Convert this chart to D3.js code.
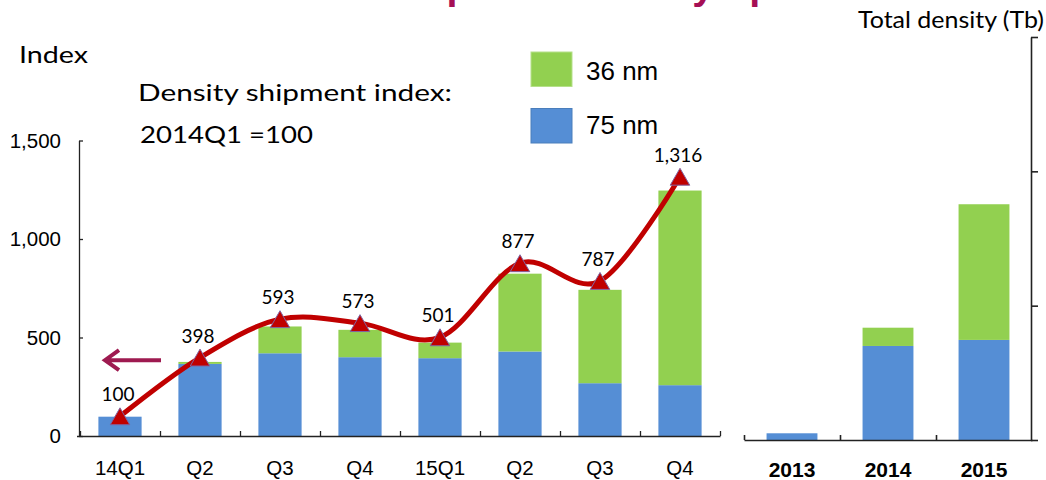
<!DOCTYPE html>
<html>
<head>
<meta charset="utf-8">
<script src="https://cdn.jsdelivr.net/npm/d3@7"></script>
<style>
  body { margin: 0; background: #fff; }
  .tick-label { font-family: "Liberation Sans", Arial, sans-serif; fill: #000; }
  .calibri { font-family: Lato, "Open Sans", sans-serif; fill: #000; }
</style>
</head>
<body>
<div class="chart"></div>
<script>
// chart data
// ==========================================================================
var quarters = ["14Q1", "Q2", "Q3", "Q4", "15Q1", "Q2", "Q3", "Q4"];
var quarter75nm = [98, 366, 420, 400, 395, 429, 268, 258];
var quarter36nm = [0, 10, 136, 139, 79, 395, 474, 988];
var densityIndex = [100, 398, 593, 573, 501, 877, 787, 1316];
var indexTicks = [0, 500, 1000, 1500];

var years = ["2013", "2014", "2015"];
var year75nm = [5, 70, 74.5];
var year36nm = [0, 13.6, 101];
var densityTicks = [0, 100, 200, 300];

var seriesNames = ["75 nm", "36 nm"];
var colors = { "75 nm": "#558ED5", "36 nm": "#92D050" };

// set up chart configurations
// ==========================================================================
var svgWidth = 1046;
var svgHeight = 480;

var svg = d3.select(".chart")
  .append("svg")
  .attr("width", svgWidth)
  .attr("height", svgHeight);

// left chart scales
var xQuarter = d3.scaleBand()
  .domain(d3.range(quarters.length))
  .range([80, 720])
  .paddingInner(0.46)
  .paddingOuter(0.23);

var xQuarterEdges = d3.scaleLinear()
  .domain([0, quarters.length])
  .range([80, 720]);

var yIndex = d3.scaleLinear()
  .domain([0, 1500])
  .range([436, 140.5]);

// right chart scales
var xYear = d3.scaleBand()
  .domain(d3.range(years.length))
  .range([744, 1032])
  .paddingInner(0.47)
  .paddingOuter(0.235);

var xYearEdges = d3.scaleLinear()
  .domain([0, years.length])
  .range([744, 1032]);

var yDensity = d3.scaleLinear()
  .domain([0, 300])
  .range([440, 37]);

// stacked tables built from the arrays
var quarterRows = quarters.map(function(q, i) {
  return { i: i, "75 nm": quarter75nm[i], "36 nm": quarter36nm[i] };
});
var yearRows = years.map(function(y, i) {
  return { i: i, "75 nm": year75nm[i], "36 nm": year36nm[i] };
});
var stack = d3.stack().keys(seriesNames);

// title (only the descenders show at the top edge, as in the slide)
svg.append("text")
  .attr("x", 287)
  .attr("y", -1)
  .attr("font-family", "Liberation Sans, Arial, sans-serif")
  .attr("font-weight", "bold")
  .attr("font-size", 39.5)
  .attr("fill", "#A50F55")
  .text("Total shipment density up");

// left chart bars
// ==========================================================================
var leftBars = svg.append("g");
stack(quarterRows).forEach(function(layer) {
  leftBars.selectAll(null)
    .data(layer)
    .enter()
    .append("rect")
    .attr("x", d => xQuarter(d.data.i))
    .attr("width", xQuarter.bandwidth())
    .attr("y", d => yIndex(d[1]))
    .attr("height", d => yIndex(d[0]) - yIndex(d[1]))
    .attr("fill", colors[layer.key]);
});

// axes
var leftAxis = d3.axisLeft(yIndex)
  .tickValues(indexTicks)
  .tickFormat(d3.format(","))
  .tickSizeInner(-4)
  .tickSizeOuter(0)
  .tickPadding(18);

var yAxisG = svg.append("g")
  .attr("transform", "translate(79, 0)")
  .call(leftAxis);
yAxisG.selectAll("text").attr("class", "tick-label").attr("font-size", 20.5);

var xTickAxis = svg.append("g")
  .attr("transform", "translate(0, 436)")
  .call(d3.axisTop(xQuarterEdges).ticks(quarters.length).tickFormat("").tickSize(5).tickSizeOuter(0));
xTickAxis.select(".domain").attr("d", "M77,0.5H720.5");

var xLabelAxis = svg.append("g")
  .attr("transform", "translate(0, 436)")
  .call(d3.axisBottom(xQuarter).tickSize(0).tickPadding(24).tickFormat(i => quarters[i]));
xLabelAxis.select(".domain").remove();
xLabelAxis.selectAll("text").attr("class", "tick-label").attr("font-size", 20.5);

svg.selectAll(".domain, .tick line").attr("stroke", "#222").attr("stroke-width", 1.3);

// smoothed index line with triangle markers
// ==========================================================================
var indexLine = d3.line()
  .x((d, i) => xQuarter(i) + xQuarter.bandwidth() / 2)
  .y(d => yIndex(d))
  .curve(d3.curveCardinal.tension(0));

svg.append("path")
  .datum(densityIndex)
  .attr("d", indexLine)
  .attr("fill", "none")
  .attr("stroke", "#C00000")
  .attr("stroke-width", 5);

var triangle = d3.symbol().type(d3.symbolTriangle).size(165);
svg.selectAll(null)
  .data(densityIndex)
  .enter()
  .append("path")
  .attr("d", triangle)
  .attr("transform", (d, i) => `translate(${xQuarter(i) + xQuarter.bandwidth() / 2}, ${yIndex(d) + 2.8})`)
  .attr("fill", "#C00000")
  .attr("stroke", "#8064A2")
  .attr("stroke-width", 1);

svg.selectAll(null)
  .data(densityIndex)
  .enter()
  .append("text")
  .attr("class", "calibri")
  .attr("x", (d, i) => xQuarter(i) + xQuarter.bandwidth() / 2 - 2)
  .attr("y", d => yIndex(d) - 15)
  .attr("text-anchor", "middle")
  .attr("font-size", 19)
  .text(d => d3.format(",")(d));

// arrow pointing at the left axis
var arrowY = yIndex(385);
svg.append("path")
  .attr("d", `M161,${arrowY}H106M119,${arrowY - 10}L105,${arrowY}L119,${arrowY + 10}`)
  .attr("fill", "none")
  .attr("stroke", "#9E1A50")
  .attr("stroke-width", 4);

// text annotations and legend (slide text is stretched a little wider)
// ==========================================================================
svg.append("text").attr("class", "calibri").attr("x", 19).attr("y", 63)
  .attr("font-size", 23).attr("textLength", 69).attr("lengthAdjust", "spacingAndGlyphs")
  .text("Index");
svg.append("text").attr("class", "calibri").attr("x", 138).attr("y", 101)
  .attr("font-size", 23).attr("textLength", 314).attr("lengthAdjust", "spacingAndGlyphs")
  .text("Density shipment index:");
svg.append("text").attr("class", "calibri").attr("x", 140).attr("y", 143)
  .attr("font-size", 23).attr("textLength", 173).attr("lengthAdjust", "spacingAndGlyphs")
  .text("2014Q1 =100");

var legend = svg.append("g");
var legendItems = ["36 nm", "75 nm"];
legend.selectAll("rect")
  .data(legendItems)
  .enter()
  .append("rect")
  .attr("x", 531)
  .attr("y", (d, i) => 52 + i * 56.5)
  .attr("width", 41)
  .attr("height", 34.5)
  .attr("fill", d => colors[d])
  .attr("stroke", d => d === "75 nm" ? "#4A7EBB" : "#B5E08A")
  .attr("stroke-width", 1);
legend.selectAll("text")
  .data(legendItems)
  .enter()
  .append("text")
  .attr("class", "tick-label")
  .attr("x", 586)
  .attr("y", (d, i) => 79.5 + i * 54)
  .attr("font-size", 26)
  .text(d => d);

// right chart: total density by year
// ==========================================================================
var rightBars = svg.append("g");
stack(yearRows).forEach(function(layer) {
  rightBars.selectAll(null)
    .data(layer)
    .enter()
    .append("rect")
    .attr("x", d => xYear(d.data.i))
    .attr("width", xYear.bandwidth())
    .attr("y", d => yDensity(d[1]))
    .attr("height", d => yDensity(d[0]) - yDensity(d[1]))
    .attr("fill", colors[layer.key]);
});

var rightAxisG = svg.append("g")
  .attr("transform", "translate(1031, 0)")
  .call(d3.axisRight(yDensity).tickValues(densityTicks).tickFormat("").tickSize(7).tickSizeOuter(0));

var yearTickAxis = svg.append("g")
  .attr("transform", "translate(0, 440)")
  .call(d3.axisTop(xYearEdges).ticks(years.length).tickFormat("").tickSize(5).tickSizeOuter(0));
yearTickAxis.selectAll(".tick line").filter(d => d === years.length).remove();

var yearLabelAxis = svg.append("g")
  .attr("transform", "translate(0, 440)")
  .call(d3.axisBottom(xYear).tickSize(0).tickPadding(22).tickFormat(i => years[i]));
yearLabelAxis.select(".domain").remove();
yearLabelAxis.selectAll("text").attr("class", "tick-label").attr("font-size", 21).attr("font-weight", "bold");

rightAxisG.selectAll(".domain, .tick line").attr("stroke", "#222").attr("stroke-width", 1.6);
yearTickAxis.selectAll(".domain, .tick line").attr("stroke", "#222").attr("stroke-width", 1.6);

svg.append("text").attr("class", "calibri").attr("x", 858).attr("y", 28)
  .attr("font-size", 23).attr("textLength", 186).attr("lengthAdjust", "spacingAndGlyphs")
  .text("Total density (Tb)");
</script>
</body>
</html>
